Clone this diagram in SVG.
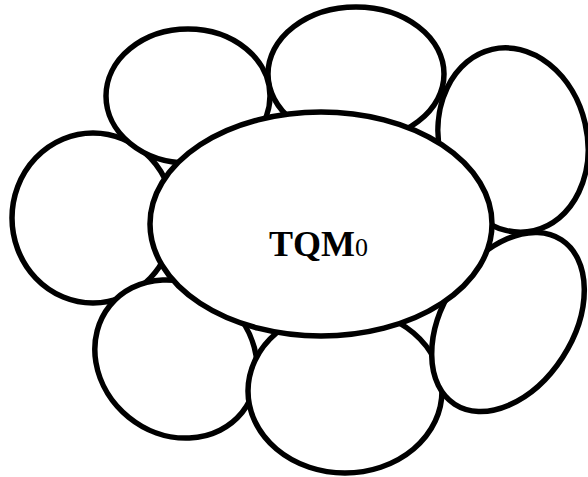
<svg xmlns="http://www.w3.org/2000/svg" width="588" height="477" viewBox="0 0 588 477">
<style>
.n{fill:#fff;stroke:#000;stroke-width:5.5}
.t{font-family:"Liberation Serif","Times New Roman",serif;fill:#000}
</style>
<rect width="588" height="477" fill="#fff"/>
<g id="connectors"></g>
<g id="node-left"><ellipse class="n" cx="93" cy="218" rx="81" ry="85"/></g>
<g id="node-bottom-left"><ellipse class="n" cx="176" cy="359" rx="85" ry="75" transform="rotate(39 176 359)"/></g>
<g id="node-bottom"><ellipse class="n" cx="345" cy="391" rx="97" ry="82"/></g>
<g id="node-bottom-right"><ellipse class="n" cx="508" cy="322" rx="65" ry="98" transform="rotate(33 508 322)"/></g>
<g id="node-top-right"><ellipse class="n" cx="513" cy="140" rx="74" ry="93" transform="rotate(-13 513 140)"/></g>
<g id="node-top"><ellipse class="n" cx="356" cy="74" rx="88" ry="67"/></g>
<g id="node-top-left"><ellipse class="n" cx="188" cy="96" rx="82" ry="67"/></g>
<g id="node-center">
<ellipse class="n" cx="321" cy="224" rx="171" ry="112"/>
<text class="t" x="269" y="256"><tspan font-weight="bold" font-size="36">TQM</tspan><tspan font-size="26">0</tspan></text>
</g>
</svg>
